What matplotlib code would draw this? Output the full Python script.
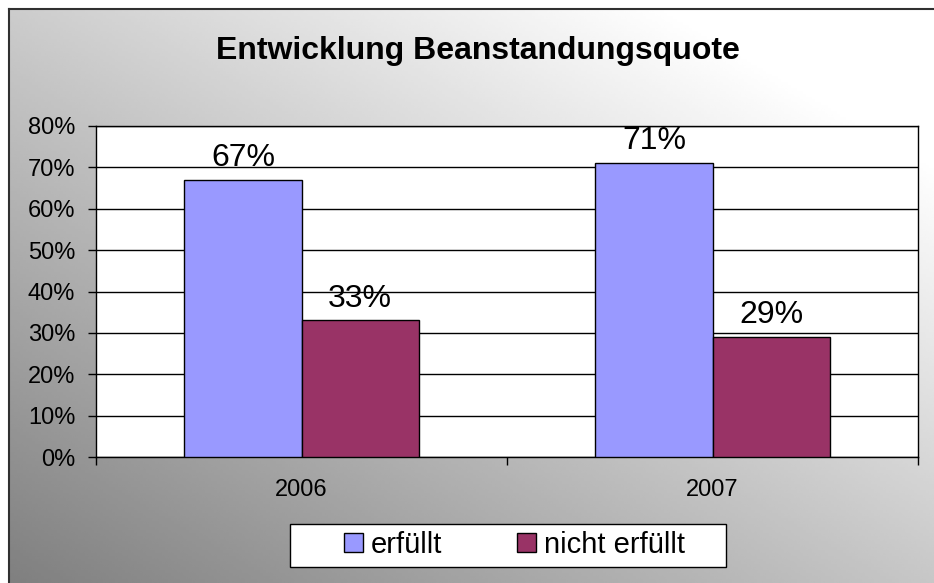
import numpy as np
import matplotlib
matplotlib.use('Agg')
import matplotlib.pyplot as plt
from matplotlib.patches import Rectangle

#-------------------------------------
# Daten
jahre = ['2006', '2007']
erfuellt = [67, 71]
nicht_erfuellt = [33, 29]
serien = ['erfüllt', 'nicht erfüllt']
titel = 'Entwicklung Beanstandungsquote'
yticks = [0, 10, 20, 30, 40, 50, 60, 70, 80]
#-------------------------------------

blau = '#9999FF'
bordeaux = '#993366'

plt.rcParams['font.family'] = ['Liberation Sans', 'DejaVu Sans']

fig = plt.figure(figsize=(9.34, 5.83), dpi=100)
fig.patch.set_facecolor('white')

# Hintergrund mit Verlauf (unten links dunkel, oben rechts hell)
bg = fig.add_axes([9/934, 0, 1 - 9/934, 1 - 9/583], zorder=-10)
gx, gy = np.meshgrid(np.linspace(0, 1, 300), np.linspace(0, 1, 200))
grad = np.clip(0.5 + 0.28*gx + 0.3*gy, 0, 1)
bg.imshow(grad, cmap='gray', vmin=0, vmax=1, origin='lower',
          extent=[0, 1, 0, 1], aspect='auto', interpolation='bilinear')
bg.set_xticks([])
bg.set_yticks([])
for s in ['right', 'bottom']:
    bg.spines[s].set_visible(False)
for s in ['left', 'top']:
    bg.spines[s].set_color('#303030')
    bg.spines[s].set_linewidth(1.5)

# Diagramm
ax = fig.add_axes([96/934, 1 - 457/583, (918 - 96)/934, (457 - 126)/583])
ax.set_facecolor('white')
x = np.arange(len(jahre))
w = 0.285
b1 = ax.bar(x - w/2, erfuellt, w, color=blau, edgecolor='black', linewidth=1, zorder=3)
b2 = ax.bar(x + w/2, nicht_erfuellt, w, color=bordeaux, edgecolor='black', linewidth=1, zorder=3)

for bars, vals in [(b1, erfuellt), (b2, nicht_erfuellt)]:
    for r, v in zip(bars, vals):
        ax.annotate('%d%%' % v, (r.get_x() + r.get_width()/2, v),
                    xytext=(0, 10), textcoords='offset points',
                    ha='center', va='baseline', fontsize=23, zorder=4)

ax.set_xlim(-0.5, 1.5)
ax.set_ylim(0, 80)
ax.set_yticks(yticks)
ax.set_yticklabels(['%d%%' % t for t in yticks])
ax.yaxis.grid(True, color='black', linewidth=1)
ax.set_axisbelow(True)

ax.set_xticks(x)
ax.set_xticklabels(jahre)
ax.set_xticks([-0.5, 0.5, 1.5], minor=True)
ax.tick_params(axis='x', which='major', length=0, pad=16, labelsize=17)
ax.tick_params(axis='x', which='minor', length=6, width=1, direction='out')
ax.tick_params(axis='y', length=6, width=1, direction='out', pad=9, labelsize=17)
for s in ax.spines.values():
    s.set_color('black')
    s.set_linewidth(1)

fig.text(0.512, 0.912, titel, ha='center', va='center', fontsize=23, fontweight='bold')

# Legende: Rahmen separat, damit er die Breite wie im Original hat
fig.patches.append(Rectangle((290/934, 1 - 567/583), (726 - 290)/934, (567 - 524)/583,
                             transform=fig.transFigure, facecolor='white',
                             edgecolor='black', linewidth=1, zorder=5))
handles = [Rectangle((0, 0), 1, 1, facecolor=blau, edgecolor='black', linewidth=1),
           Rectangle((0, 0), 1, 1, facecolor=bordeaux, edgecolor='black', linewidth=1)]
leg = fig.legend(handles, serien, loc='center left', bbox_to_anchor=(344/934, 1 - 545/583),
                 ncol=2, fontsize=21, frameon=False, borderpad=0, borderaxespad=0,
                 handlelength=0.65, handleheight=0.65, handletextpad=0.25,
                 columnspacing=2.6)
leg.set_zorder(6)

plt.savefig('out.png', dpi=100)
